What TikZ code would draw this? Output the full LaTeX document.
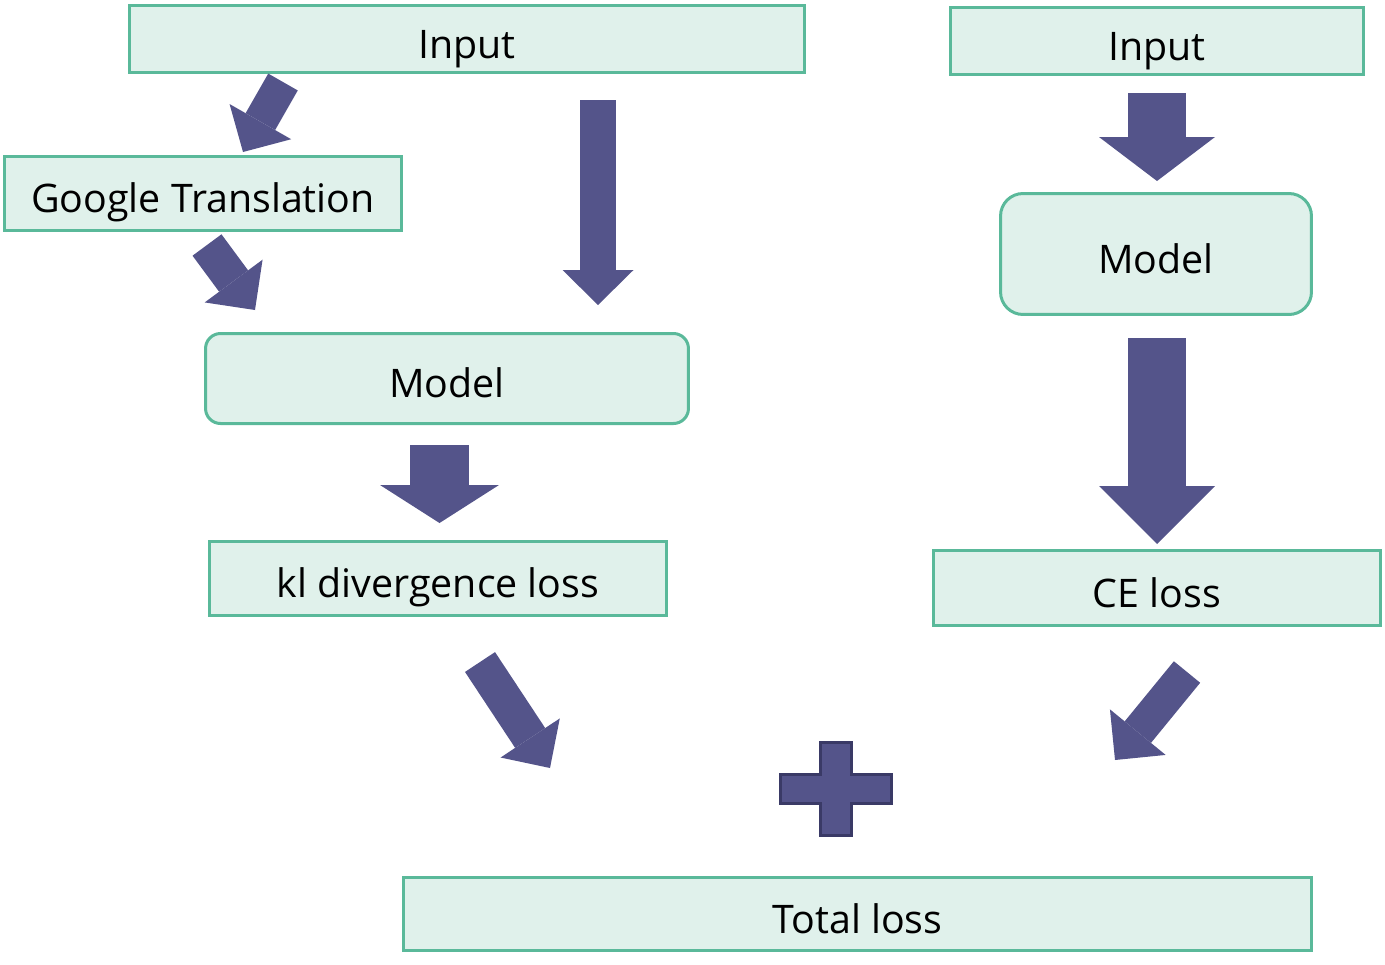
\documentclass[tikz,border=0pt]{standalone}
\usepackage{fontspec}
\setmainfont{Open Sans}
\usetikzlibrary{arrows.meta}
\definecolor{mint}{RGB}{224, 241, 235}
\definecolor{seagreen}{RGB}{90, 185, 154}
\definecolor{indigo}{RGB}{84, 84, 138}
\definecolor{darkindigo}{RGB}{58, 58, 102}

\tikzset{
  box/.style={draw=seagreen, fill=mint, line width=0.06cm, inner sep=0pt,
    text height=0.76cm, text depth=0cm, font=\fontsize{22.4}{26}\selectfont},
  roundbox/.style={box, rounded corners=#1},
  flow/.style args={#1/#2/#3}{draw=indigo, line width=#1,
    -{Triangle[width=#2, length=#3, line width=0pt]}},
}

\begin{document}
\begin{tikzpicture}[x=0.02cm, y=-0.02cm]
        \useasboundingbox (0,0) rectangle (1385,964);

        % left branch
        \node[box, minimum width=13.5cm, minimum height=1.34cm] (inputL) at (467,39) {Input};
        \node[box, minimum width=7.94cm, minimum height=1.48cm] (google) at (203,193.5) {Google Translation};
        \node[roundbox=0.3cm, minimum width=9.66cm, minimum height=1.8cm] (modelL) at (447,378.5) {Model};
        \node[box, minimum width=9.14cm, minimum height=1.48cm] (kl) at (438,578.5) {kl divergence loss};

        % right branch
        \node[box, minimum width=8.26cm, minimum height=1.34cm] (inputR) at (1157,41) {Input};
        \node[roundbox=0.45cm, minimum width=6.22cm, minimum height=2.42cm] (modelR) at (1156,254) {Model};
        \node[box, minimum width=8.94cm, minimum height=1.5cm] (ce) at (1157,588) {CE loss};

        \node[box, minimum width=18.16cm, minimum height=1.46cm] (total) at (857.5,914) {Total loss};

        % ends of the block arrows
        \coordinate (inputL-g) at (283,82);
        \coordinate (g-in) at (243,152);
        \coordinate (g-out) at (207,245);
        \coordinate (modelL-g) at (255,310);
        \coordinate (inputL-m) at (598,100);
        \coordinate (modelL-in) at (598,305);
        \coordinate (modelL-out) at (439.5,445);
        \coordinate (kl-in) at (439.5,523);
        \coordinate (kl-out) at (480,662);
        \coordinate (plus-l) at (550,768);
        \coordinate (inputR-out) at (1157,93);
        \coordinate (modelR-in) at (1157,181);
        \coordinate (modelR-out) at (1157,338);
        \coordinate (ce-in) at (1157,544);
        \coordinate (ce-out) at (1187,672);
        \coordinate (plus-r) at (1115,760);

        \draw[flow=0.68cm/1.42cm/0.7cm] (inputL-g) -- (g-in);
        \draw[flow=0.72cm/1.44cm/0.72cm] (g-out) -- (modelL-g);
        \draw[flow=0.72cm/1.42cm/0.7cm] (inputL-m) -- (modelL-in);
        \draw[flow=1.18cm/2.38cm/0.76cm] (modelL-out) -- (kl-in);
        \draw[flow=0.72cm/1.42cm/0.72cm] (kl-out) -- (plus-l);
        \draw[flow=0.68cm/1.44cm/0.72cm] (ce-out) -- (plus-r);
        \draw[flow=1.16cm/2.32cm/0.88cm] (inputR-out) -- (modelR-in);
        \draw[flow=1.16cm/2.32cm/1.16cm] (modelR-out) -- (ce-in);

        % plus sign
        \draw[fill=indigo, draw=darkindigo, line width=0.06cm]
          (820.5,742.5) -- (851.5,742.5) -- (851.5,774.5) -- (891.5,774.5)
          -- (891.5,803.5) -- (851.5,803.5) -- (851.5,835.5) -- (820.5,835.5)
          -- (820.5,803.5) -- (780.5,803.5) -- (780.5,774.5) -- (820.5,774.5) -- cycle;
\end{tikzpicture}
\end{document}
